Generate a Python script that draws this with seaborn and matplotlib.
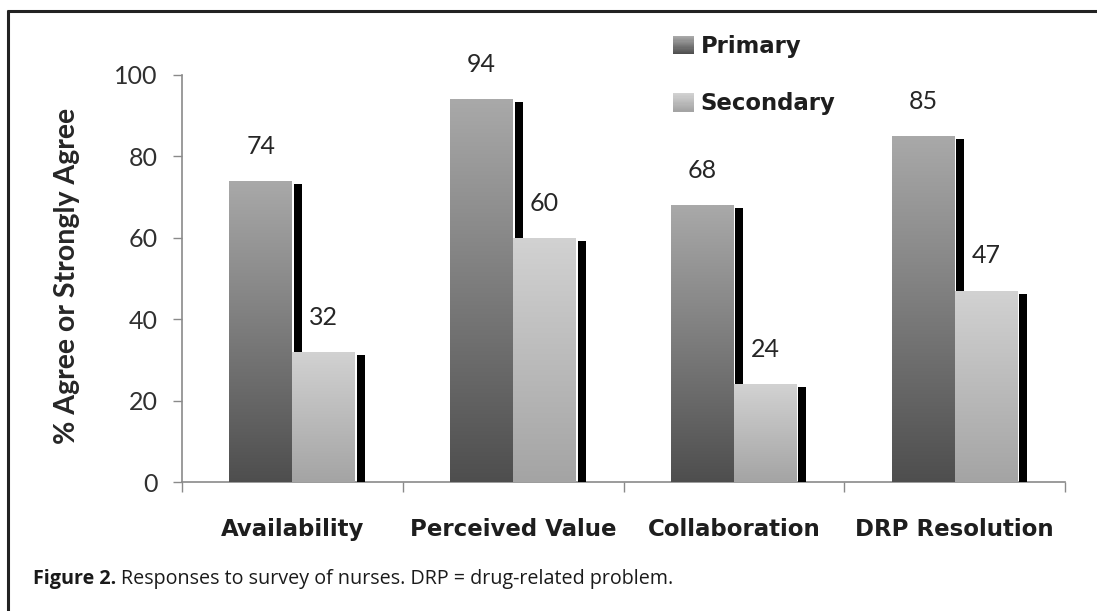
import numpy as np
import pandas as pd
import matplotlib
matplotlib.use("Agg")
import matplotlib.pyplot as plt
import seaborn as sns
from matplotlib.patches import Rectangle
from matplotlib.lines import Line2D
from matplotlib.colors import LinearSegmentedColormap
from matplotlib.legend_handler import HandlerBase
from matplotlib.font_manager import FontProperties

# ---------------- data ----------------
categories = ["Availability", "Perceived Value", "Collaboration", "DRP Resolution"]
primary = [74, 94, 68, 85]
secondary = [32, 60, 24, 47]
series_names = ["Primary", "Secondary"]
y_ticks = [0, 20, 40, 60, 80, 100]
y_label = "% Agree or Strongly Agree"
caption_bold = "Figure 2."
caption_text = "Responses to survey of nurses. DRP = drug-related problem."

df = pd.DataFrame({
    "category": categories * 2,
    "value": primary + secondary,
    "series": [series_names[0]] * len(primary) + [series_names[1]] * len(secondary),
})

# ---------------- style ----------------
sns.set_theme(style="white")
plt.rcParams["font.family"] = ["Lato", "DejaVu Sans"]

W, H = 1097, 611
fig = plt.figure(figsize=(W / 100, H / 100), dpi=100)
fig.patch.set_facecolor("white")
L, R, B, T = 182, 1065, 482, 75
ax = fig.add_axes([L / W, 1 - B / H, (R - L) / W, (B - T) / H])

grad = {"Primary": ("#a9a9a9", "#4e4e4e"), "Secondary": ("#d2d2d2", "#a4a4a4")}
palette = {k: v[0] for k, v in grad.items()}

sns.barplot(data=df, x="category", y="value", hue="series", order=categories,
            hue_order=series_names, palette=palette, width=0.57, gap=0,
            saturation=1, errorbar=None, legend=False, ax=ax)

ax.set_xlim(-0.5, len(categories) - 0.5)
ax.set_ylim(0, 100)

px_x = len(categories) / (R - L)   # data units per pixel (x)
px_y = 100 / (B - T)               # data units per pixel (y)

bars = [p for p in ax.patches if isinstance(p, Rectangle)]
n = len(categories)
for i, p in enumerate(bars):
    s = series_names[i // n]
    top_c, bot_c = grad[s]
    x0, w, h = p.get_x(), p.get_width(), p.get_height()
    base_z = 2 + 2 * (i // n)
    # shadow
    ax.add_patch(Rectangle((x0 + w + 1.5 * px_x, 0), 8 * px_x, h - 3 * px_y,
                           facecolor="black", edgecolor="none", zorder=base_z))
    # gradient fill
    p.set_facecolor("none")
    p.set_edgecolor("none")
    cmap = LinearSegmentedColormap.from_list("g", [bot_c, top_c])
    img = np.linspace(0, 1, 256).reshape(-1, 1)
    im = ax.imshow(img, extent=(x0, x0 + w, 0, h), origin="lower", cmap=cmap,
                   aspect="auto", interpolation="bilinear", zorder=base_z + 1)
    im.set_clip_path(p)
    # value label
    ax.annotate(f"{h:.0f}", (x0 + w / 2, h), xytext=(0, 25), textcoords="offset points",
                ha="center", va="center", fontsize=18, color="#262626",
                fontfamily="Lato", zorder=10)

ax.set_xlim(-0.5, len(categories) - 0.5)
ax.set_ylim(0, 100)
ax.set_xlabel("")
ax.set_ylabel("")

# spines
for side in ["top", "right"]:
    ax.spines[side].set_visible(False)
for side in ["left", "bottom"]:
    ax.spines[side].set_color("#8a8a8a")
    ax.spines[side].set_linewidth(1.2)

ax.set_yticks(y_ticks)
ax.tick_params(axis="y", left=True, length=6.5, width=1, color="#8a8a8a",
               direction="out", pad=11, labelsize=18, labelcolor="#303030")
ax.set_xticks(range(len(categories)))
ax.set_xticks(np.arange(len(categories) + 1) - 0.5, minor=True)
ax.tick_params(axis="x", which="major", bottom=True, length=0, pad=26)
ax.tick_params(axis="x", which="minor", bottom=True, length=7, width=1,
               color="#8a8a8a", direction="out")
for lbl in ax.get_xticklabels():
    lbl.set_fontfamily("DejaVu Sans")
    lbl.set_fontweight("bold")
    lbl.set_fontsize(16.5)
    lbl.set_color("#1e1e1e")
for lbl in ax.get_yticklabels():
    lbl.set_fontfamily("Lato")

fig.text(67 / W, 1 - 276 / H, y_label, rotation=90, ha="center", va="center",
         fontfamily="Lato", fontweight="bold", fontsize=20.5, color="#262626")


# ---------------- legend with gradient swatches ----------------
class GradHandler(HandlerBase):
    def __init__(self, top, bottom, steps=16):
        super().__init__()
        self.top, self.bottom, self.steps = top, bottom, steps

    def create_artists(self, legend, orig_handle, xdescent, ydescent, width,
                       height, fontsize, trans):
        cm = LinearSegmentedColormap.from_list("lg", [self.bottom, self.top])
        arts = []
        for k in range(self.steps):
            arts.append(Rectangle((-xdescent, -ydescent + k * height / self.steps),
                                  width, height / self.steps * 1.05,
                                  facecolor=cm(k / (self.steps - 1)), edgecolor="none",
                                  transform=trans))
        return arts


handles = [Rectangle((0, 0), 1, 1) for _ in series_names]
hmap = {h: GradHandler(*grad[s]) for h, s in zip(handles, series_names)}
leg = fig.legend(handles, series_names, handler_map=hmap, loc="upper left",
                 bbox_to_anchor=(673 / W, 1 - 35 / H), frameon=False,
                 prop=FontProperties(family="DejaVu Sans", weight="bold", size=16.4),
                 handlelength=0.92, handleheight=0.88, handletextpad=0.3,
                 labelspacing=1.5, borderpad=0, borderaxespad=0)
for t in leg.get_texts():
    t.set_color("#1e1e1e")

# ---------------- frame lines ----------------
lw = 2.2
fig.add_artist(Line2D([7 / W, 1], [1 - 11 / H, 1 - 11 / H], transform=fig.transFigure,
                      color="#222222", lw=lw, solid_capstyle="butt"))
fig.add_artist(Line2D([8 / W, 8 / W], [1 - 10 / H, 0], transform=fig.transFigure,
                      color="#222222", lw=lw, solid_capstyle="butt"))

# ---------------- caption (fitted to span ~33..673 px) ----------------
cy = 1 - 579 / H
cap_left, cap_right = 33, 673
renderer = fig.canvas.get_renderer()


def draw_caption(size):
    a = fig.text(cap_left / W, cy, caption_bold, ha="left", va="center",
                 fontfamily="Open Sans", fontweight="bold", fontsize=size, color="#1a1a1a")
    bb = a.get_window_extent(renderer=renderer)
    gap = size * 0.3
    b = fig.text((bb.x1 + gap) / W, cy, caption_text, ha="left", va="center",
                 fontfamily="Open Sans", fontsize=size, color="#1a1a1a")
    bb2 = b.get_window_extent(renderer=renderer)
    return a, b, bb2.x1 - bb.x0


size0 = 13.0
a, b, width = draw_caption(size0)
a.remove()
b.remove()
draw_caption(size0 * (cap_right - cap_left) / width)

fig.savefig("out.png", dpi=100, facecolor="white")
